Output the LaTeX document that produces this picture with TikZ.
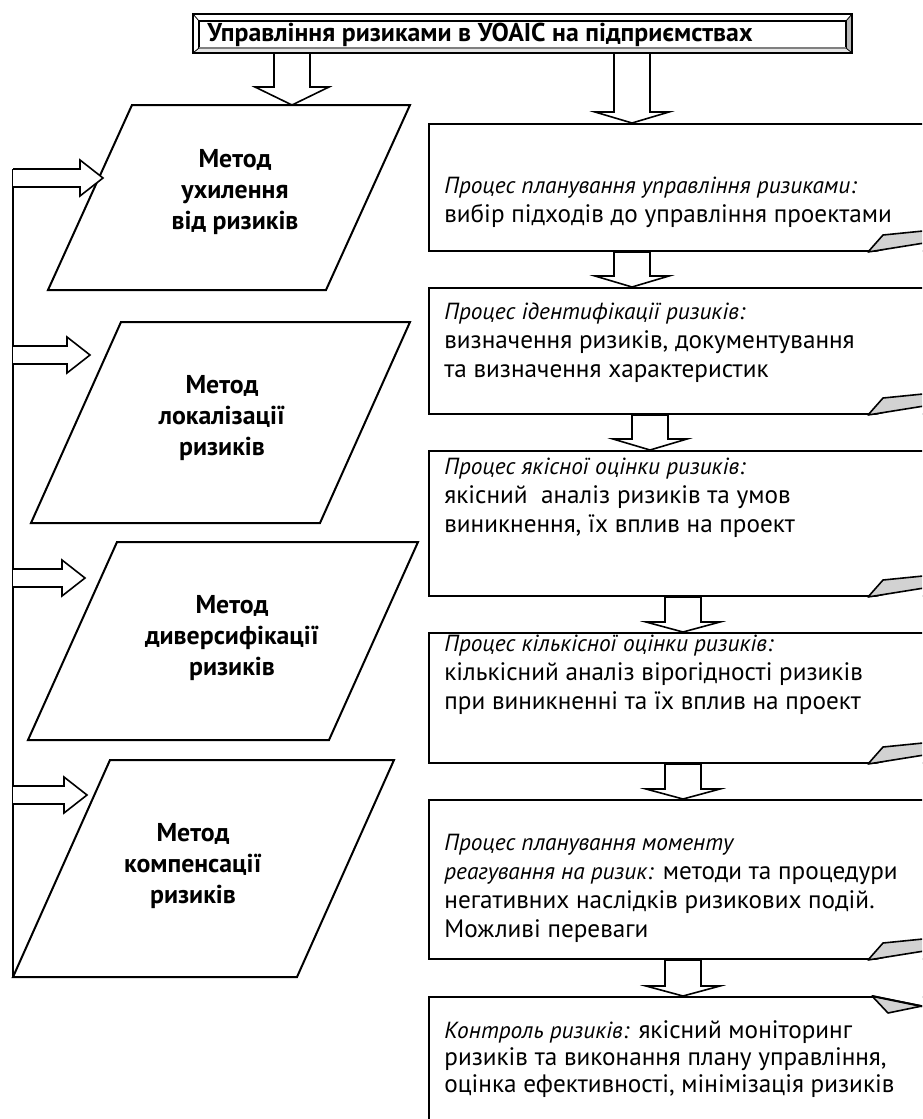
\documentclass[tikz,border=0pt]{standalone}
\usepackage{fontspec}
\setmainfont{PT Sans}[ItalicFeatures={Scale=0.925}]
\usepackage{tikz}
\usetikzlibrary{positioning,calc}

\tikzset{
  stagebox/.style={draw, line width=1pt, fill=white, inner sep=0pt, anchor=north west, minimum width=261pt},
  stagetext/.style={anchor=north west, align=left, inner sep=0pt, font=\fontsize{12.6pt}{14.5pt}\selectfont},
  methodbox/.style={draw, line width=1pt, fill=white, line join=miter},
  methodtext/.style={align=center, inner sep=0pt, font=\fontsize{12.9pt}{15.5pt}\selectfont\bfseries},
  blockarrow/.style={draw, line width=0.8pt, fill=white, line join=miter},
  curl/.style={draw, line width=0.8pt, fill=gray!35, line join=round},
}

% block arrow pointing down: head length, from, to
\newcommand{\downblock}[3]{%
  \draw[blockarrow] let \p1=(#2), \p2=(#3) in
    (\x1-9pt,\y1) -- (\x1-9pt,\y2+#1) -- (\x1-18.5pt,\y2+#1) -- (\x2,\y2)
    -- (\x1+18.5pt,\y2+#1) -- (\x1+9pt,\y2+#1) -- (\x1+9pt,\y1) -- cycle;}
% block arrow pointing right: from, to
\newcommand{\rightblock}[2]{%
  \draw[blockarrow] let \p1=(#1), \p2=(#2) in
    (\x1,\y1+4.5pt) -- (\x2-11.5pt,\y1+4.5pt) -- (\x2-11.5pt,\y1+9pt) -- (\x2,\y1)
    -- (\x2-11.5pt,\y1-9pt) -- (\x2-11.5pt,\y1-4.5pt) -- (\x1,\y1-4.5pt);}
% folded corner at the bottom right of a box
\newcommand{\curlbottom}[1]{%
  \fill[white] (#1.south -| curlx) ++(1,1.5) -- ++(80,0) -- ++(0,-18) -- cycle;
  \draw[curl] (#1.south -| curlx) -- ++(15,-17) -- ++(60,-6) -- ++(0,11) -- cycle;}

\begin{document}
\begin{tikzpicture}[x=0.5pt, y=-0.5pt]
  \useasboundingbox (0,0) rectangle (922,1119);
  \clip (0,0) rectangle (922,1119);

  % Draw the title frame
  \fill[white] (193,14) rectangle (852,53);
  \fill[gray!55] (852,14) -- (852,53) -- (846,48) -- (846,21) -- cycle;
  \fill[gray!20] (193,53) -- (852,53) -- (846,48) -- (199,48) -- cycle;
  \draw[line width=1pt] (193,14) rectangle (852,53);
  \draw[line width=0.8pt] (199,48) -- (199,21) -- (846,21) -- (846,48);
  \draw[line width=0.8pt, gray] (199,48) -- (846,48);
  \draw[line width=0.4pt] (193,14) -- (199,21) (852,14) -- (846,21) (852,53) -- (846,48) (193,53) -- (199,48);
  \node[font=\fontsize{12.9pt}{14pt}\selectfont\bfseries, anchor=west, inner sep=0pt]
    (banner) at (207,34.5) {Управління ризиками в УОАІС на підприємствах};
  \coordinate (bannerbot) at (522,53);

  % Draw the method parallelograms
  \draw[methodbox] (48,290) -- (132,105) -- (410,105) -- (326,290) -- cycle;
  \draw[methodbox] (31,523) -- (121,322) -- (410,322) -- (320,523) -- cycle;
  \draw[methodbox] (28,740) -- (117,542) -- (418,542) -- (329,740) -- cycle;
  \draw[methodbox] (13,977) -- (110,760) -- (394,760) -- (297,977) -- cycle;
  \node[methodtext] (m1) at (235,192) {Метод\\ухилення\\від ризиків};
  \node[methodtext] (m2) at (222,418) {Метод\\локалізації\\ризиків};
  \node[methodtext] (m3) at (232,638) {Метод\\диверсифікації\\ризиків};
  \node[methodtext] (m4) at (193,866) {Метод\\компенсації\\ризиків};

  % Draw the process boxes
  \node[stagebox, minimum height=63.5pt] (b1) at (428,123) {};
  \node[stagebox, minimum height=63pt] (b2) at (428,287) {};
  \node[stagebox, minimum height=72.5pt] (b3) at (428,450) {};
  \node[stagebox, minimum height=65pt] (b4) at (428,632) {};
  \node[stagebox, minimum height=79.5pt] (b5) at (428,799) {};
  \node[stagebox, minimum height=80pt] (b6) at (428,996) {};

  % Draw the rail on the left with its arrows
  \coordinate (railtop) at (13,169);
  \coordinate (railend) at (13,977);
  \draw[line width=0.8pt] (railtop) -- (railend);
  \coordinate (r1) at (13,178); \coordinate (t1) at (103,178);
  \coordinate (r2) at (13,355); \coordinate (t2) at (90,355);
  \coordinate (r3) at (13,578); \coordinate (t3) at (85,578);
  \coordinate (r4) at (13,795); \coordinate (t4) at (87,795);
  \rightblock{r1}{t1}
  \rightblock{r2}{t2}
  \rightblock{r3}{t3}
  \rightblock{r4}{t4}

  % Draw the arrows down
  \coordinate (p1top) at (292,105);
  \coordinate (colA) at (632,0);
  \coordinate (colB) at (650,0);
  \coordinate (colC) at (683,0);
  \downblock{9pt}{bannerbot -| p1top}{p1top}
  \downblock{5.5pt}{bannerbot -| colA}{b1.north -| colA}
  \downblock{5.5pt}{b1.south -| colA}{b2.north -| colA}
  \downblock{5.5pt}{b2.south -| colB}{b3.north -| colB}
  \downblock{5pt}{b3.south -| colC}{b4.north -| colC}
  \downblock{5pt}{b4.south -| colC}{b5.north -| colC}
  \downblock{5pt}{b5.south -| colC}{b6.north -| colC}

  % Draw the folded corners
  \coordinate (curlx) at (868,0);
  \curlbottom{b1}
  \curlbottom{b2}
  \curlbottom{b3}
  \curlbottom{b4}
  \curlbottom{b5}
  \fill[white] (873,994) rectangle (930,998);
  \draw[curl] (872,996) -- (888,1013) -- (922,1006) -- cycle;
  \draw[line width=1pt] (872,996) -- (935,1009);

  % Text of the process boxes
  \node[stagetext] (s1) at (444,173) {\strut\textit{Процес планування управління ризиками:}\\вибір підходів до управління проектами};
  \node[stagetext] (s2) at (444,299) {\strut\textit{Процес ідентифікації ризиків:}\\визначення ризиків, документування\\та визначення характеристик};
  \node[stagetext] (s3) at (444,454) {\strut\textit{Процес якісної оцінки ризиків:}\\якісний\ \ аналіз ризиків та умов\\виникнення, їх вплив на проект};
  \node[stagetext] (s4) at (444,631) {\strut\textit{Процес кількісної оцінки ризиків:}\\кількісний аналіз вірогідності ризиків\\при виникненні та їх вплив на проект};
  \node[stagetext] (s5) at (444,830) {\strut\textit{Процес планування моменту}\\\textit{реагування на ризик:} методи та процедури\\негативних наслідків ризикових подій.\\Можливі переваги};
  \node[stagetext, font=\fontsize{12.6pt}{13.5pt}\selectfont] (s6) at (444,1019) {\strut\textit{Контроль ризиків:} якісний моніторинг\\ризиків та виконання плану управління,\\оцінка ефективності, мінімізація ризиків};
\end{tikzpicture}
\end{document}
